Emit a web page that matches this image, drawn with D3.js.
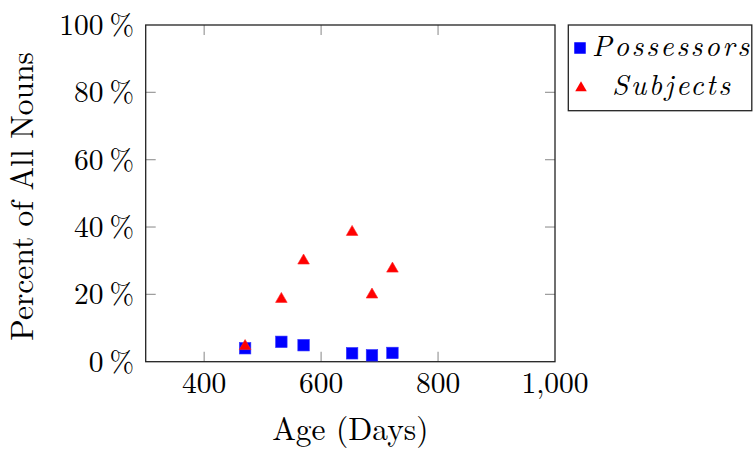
<!DOCTYPE html>
<html>
<head>
<meta charset="utf-8">
<script src="https://cdn.jsdelivr.net/npm/d3@7"></script>
<style>
  html, body { margin: 0; padding: 0; background: #fff; }
  svg { display: block; }
  text { font-family: "Latin Modern Roman", "Liberation Serif", serif; fill: #000; }
</style>
</head>
<body>
<svg id="chart" width="753" height="452"></svg>
<script>
// ---- data ----
const ages = [470, 532, 570, 653, 687, 722];
const possessors = [4.0, 5.9, 4.9, 2.5, 1.9, 2.6];
const subjects = [4.6, 18.6, 30.0, 38.5, 19.9, 27.6];
const xTicks = [400, 600, 800, 1000];
const yTicks = [0, 20, 40, 60, 80, 100];
const seriesNames = ["Possessors", "Subjects"];

const svg = d3.select("#chart");
const plot = { left: 145.7, right: 555, top: 25, bottom: 361.7 };

const x = d3.scaleLinear().domain([300, 1000]).range([plot.left, plot.right]);
const y = d3.scaleLinear().domain([0, 100]).range([plot.bottom, plot.top]);

const tickLen = 10, tickColor = "#9a9a9a";
const g = svg.append("g");

// inner ticks on all four sides
g.selectAll(".xtb").data(xTicks.filter(d => d < 1000)).enter().append("line")
  .attr("x1", d => x(d)).attr("x2", d => x(d))
  .attr("y1", plot.bottom).attr("y2", plot.bottom - tickLen)
  .attr("stroke", tickColor).attr("stroke-width", 1.2);
g.selectAll(".xtt").data(xTicks.filter(d => d < 1000)).enter().append("line")
  .attr("x1", d => x(d)).attr("x2", d => x(d))
  .attr("y1", plot.top).attr("y2", plot.top + tickLen)
  .attr("stroke", tickColor).attr("stroke-width", 1.2);
g.selectAll(".ytl").data(yTicks.filter(d => d > 0 && d < 100)).enter().append("line")
  .attr("x1", plot.left).attr("x2", plot.left + tickLen)
  .attr("y1", d => y(d)).attr("y2", d => y(d))
  .attr("stroke", tickColor).attr("stroke-width", 1.2);
g.selectAll(".ytr").data(yTicks.filter(d => d > 0 && d < 100)).enter().append("line")
  .attr("x1", plot.right).attr("x2", plot.right - tickLen)
  .attr("y1", d => y(d)).attr("y2", d => y(d))
  .attr("stroke", tickColor).attr("stroke-width", 1.2);

// frame
g.append("rect")
  .attr("x", plot.left).attr("y", plot.top)
  .attr("width", plot.right - plot.left).attr("height", plot.bottom - plot.top)
  .attr("fill", "none").attr("stroke", "#222").attr("stroke-width", 1.3);

// tick labels
const fmtX = d3.format(",");
g.selectAll(".xl").data(xTicks).enter().append("text")
  .attr("x", d => x(d)).attr("y", 392.5)
  .attr("text-anchor", "middle").attr("font-size", 29.5)
  .text(d => fmtX(d));
g.selectAll(".yl").data(yTicks).enter().append("text")
  .attr("x", 134).attr("y", d => y(d) + 10)
  .attr("text-anchor", "end").attr("font-size", 29.5)
  .text(d => d + "\u2009%");

// axis titles
g.append("text").attr("x", (plot.left + plot.right) / 2).attr("y", 440)
  .attr("text-anchor", "middle").attr("font-size", 31.5)
  .text("Age (Days)");
g.append("text")
  .attr("transform", `translate(33, ${(plot.top + plot.bottom) / 2 + 3}) rotate(-90)`)
  .attr("text-anchor", "middle").attr("font-size", 31.5)
  .text("Percent of All Nouns");

// markers
const sq = 11.5;
g.selectAll(".pos").data(ages).enter().append("rect")
  .attr("x", (d) => x(d) - sq / 2)
  .attr("y", (d, i) => y(possessors[i]) - sq / 2)
  .attr("width", sq).attr("height", sq)
  .attr("fill", "#0000ff").attr("stroke", "#3333ff").attr("stroke-width", 0.6);

const tri = d3.symbol().type(d3.symbolTriangle).size(58);
g.selectAll(".sub").data(ages).enter().append("path")
  .attr("d", tri)
  .attr("transform", (d, i) => `translate(${x(d)},${y(subjects[i])})`)
  .attr("fill", "#ff0000").attr("stroke", "#ff2222").attr("stroke-width", 0.6);

// legend
const lg = svg.append("g");
lg.append("rect").attr("x", 568.3).attr("y", 25).attr("width", 183.5).attr("height", 85.7)
  .attr("fill", "#fff").attr("stroke", "#222").attr("stroke-width", 1.3);
lg.append("rect").attr("x", 580 - sq / 2).attr("y", 48 - sq / 2).attr("width", sq).attr("height", sq)
  .attr("fill", "#0000ff");
lg.append("path").attr("d", tri).attr("transform", "translate(581,88)").attr("fill", "#ff0000");
lg.append("text").attr("x", 592).attr("y", 56).attr("font-size", 29).attr("font-style", "italic")
  .attr("textLength", 157).attr("lengthAdjust", "spacing")
  .text(seriesNames[0]);
lg.append("text").attr("x", 612).attr("y", 95).attr("font-size", 29).attr("font-style", "italic")
  .attr("textLength", 118).attr("lengthAdjust", "spacing")
  .text(seriesNames[1]);
</script>
</body>
</html>
